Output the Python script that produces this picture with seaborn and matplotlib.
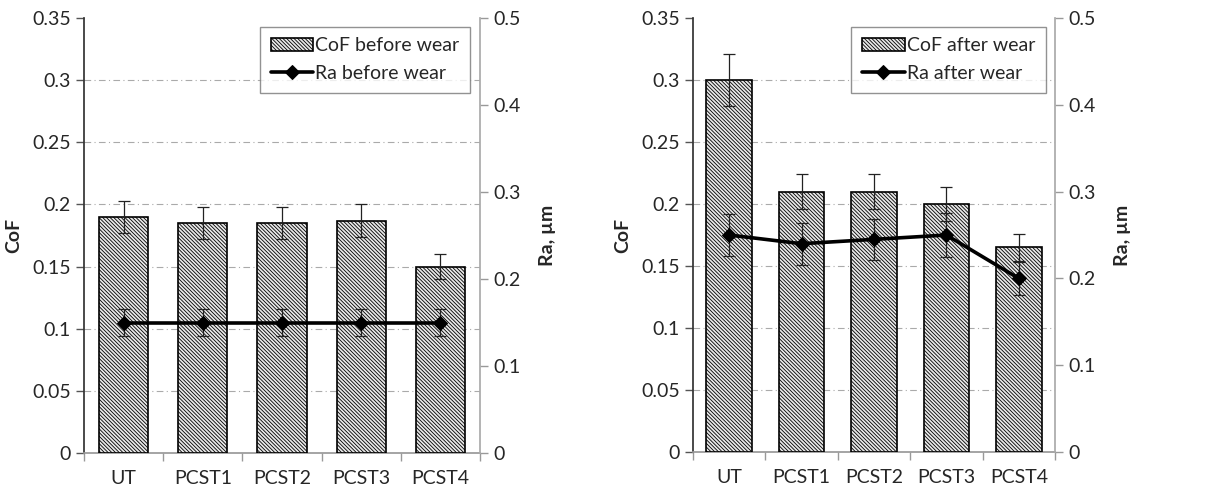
import numpy as np
import matplotlib
matplotlib.use("Agg")
import matplotlib.pyplot as plt
import seaborn as sns
from matplotlib.ticker import FixedLocator, NullFormatter

# --- data -------------------------------------------------------------
categories = ["UT", "PCST1", "PCST2", "PCST3", "PCST4"]

cof_before = [0.19, 0.185, 0.185, 0.187, 0.15]
cof_before_err = [0.013, 0.013, 0.013, 0.013, 0.010]
ra_before = [0.15, 0.15, 0.15, 0.15, 0.15]
ra_before_err = [0.015, 0.015, 0.015, 0.015, 0.015]

cof_after = [0.30, 0.21, 0.21, 0.20, 0.165]
cof_after_err = [0.021, 0.014, 0.014, 0.014, 0.011]
ra_after = [0.25, 0.24, 0.245, 0.25, 0.20]
ra_after_err = [0.024, 0.024, 0.024, 0.025, 0.019]

cof_ticks = [0, 0.05, 0.1, 0.15, 0.2, 0.25, 0.3, 0.35]
cof_tick_labels = ["0", "0.05", "0.1", "0.15", "0.2", "0.25", "0.3", "0.35"]
ra_ticks = [0, 0.1, 0.2, 0.3, 0.4, 0.5]
ra_tick_labels = ["0", "0.1", "0.2", "0.3", "0.4", "0.5"]

sns.set_theme(style="white")
plt.rcParams["font.family"] = ["Lato", "DejaVu Sans"]
plt.rcParams["hatch.linewidth"] = 0.6
plt.rcParams["hatch.color"] = "#4a4a4a"

fig = plt.figure(figsize=(12.13, 4.95), dpi=100)
ax_l = fig.add_axes([0.0693, 0.0848, 0.3264, 0.8788])
ax_r = fig.add_axes([0.5713, 0.0868, 0.2984, 0.8768])

FS = 14
HATCH = "\\" * 9


def panel(ax, cof, cof_err, ra, ra_err, bar_label, line_label, bar_width):
    sns.barplot(x=categories, y=cof, ax=ax, color="#e8e8e8", edgecolor="black",
                linewidth=1.2, hatch=HATCH, width=bar_width,
                label=bar_label, saturation=1, zorder=3)
    if ax.get_legend() is not None:
        ax.get_legend().remove()
    pos = np.arange(len(categories))
    ax.errorbar(pos, cof, yerr=cof_err, fmt="none", ecolor="#222222",
                elinewidth=0.9, capsize=4, capthick=0.9, zorder=4)
    ax.set_xlim(-0.5, len(categories) - 0.5)
    ax.set_ylim(0, 0.35)
    ax.set_yticks(cof_ticks)
    ax.set_yticklabels(cof_tick_labels, fontsize=FS)
    ax.set_ylabel("CoF", fontsize=FS, fontweight="bold", labelpad=7)
    ax.set_xlabel("")
    ax.tick_params(axis="x", which="major", length=0, labelsize=FS, pad=12)
    ax.xaxis.set_minor_locator(FixedLocator(np.arange(-0.5, len(categories), 1.0)))
    ax.xaxis.set_minor_formatter(NullFormatter())
    ax.tick_params(axis="x", which="minor", bottom=True, length=6,
                   color="#999999", width=1)
    ax.tick_params(axis="y", left=True, length=6, color="#555555", width=1)
    for y in cof_ticks[1:-1]:
        ax.axhline(y, color="#aaaaaa", linestyle="-.", linewidth=0.8,
                   dashes=(6, 3, 1, 3), zorder=1)
    ax.spines["top"].set_visible(False)
    ax.spines["right"].set_visible(False)
    ax.spines["left"].set_color("#333333")
    ax.spines["bottom"].set_color("#999999")

    ax2 = ax.twinx()
    sns.lineplot(x=pos, y=ra, ax=ax2, color="black", linewidth=2.6,
                 marker="D", markersize=7, markeredgecolor="black",
                 label=line_label, zorder=5, legend=False)
    ax2.errorbar(pos, ra, yerr=ra_err, fmt="none", ecolor="#222222",
                 elinewidth=0.9, capsize=4, capthick=0.9, zorder=4)
    ax2.set_ylim(0, 0.5)
    ax2.set_yticks(ra_ticks)
    ax2.set_yticklabels(ra_tick_labels, fontsize=FS)
    ax2.set_ylabel("Ra, µm", fontsize=FS, fontweight="bold", labelpad=13)
    ax2.tick_params(axis="y", right=True, length=6, color="#999999", width=1)
    for s in ["top", "left", "bottom"]:
        ax2.spines[s].set_visible(False)
    ax2.spines["right"].set_color("#aaaaaa")
    ax2.grid(False)

    h1, _ = ax.get_legend_handles_labels()
    h2, _ = ax2.get_legend_handles_labels()
    leg = ax2.legend(h1[:1] + h2[:1], [bar_label, line_label], loc="upper right",
                     bbox_to_anchor=(0.975, 0.98), fontsize=FS, frameon=True,
                     fancybox=False, edgecolor="#777777", handlelength=2.2,
                     handletextpad=0.1, borderpad=0.55, labelspacing=0.55,
                     borderaxespad=0)
    leg.get_frame().set_linewidth(1.0)
    return ax2


panel(ax_l, cof_before, cof_before_err, ra_before, ra_before_err,
      "CoF before wear", "Ra before wear", 0.62)
panel(ax_r, cof_after, cof_after_err, ra_after, ra_after_err,
      "CoF after wear", "Ra after wear", 0.63)

fig.savefig("out.png", dpi=100)
